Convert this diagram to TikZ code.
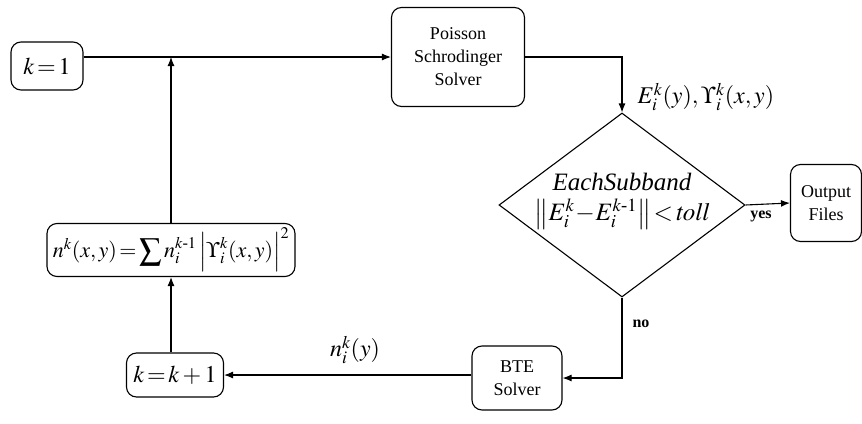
\documentclass[tikz,border=0pt]{standalone}
\usepackage{amsmath}
\usepackage{mathptmx}
\usepackage{fontspec}
\setmainfont{Liberation Serif}
\usetikzlibrary{shapes.geometric,arrows.meta}
\begin{document}
\begin{tikzpicture}[x=1pt,y=-1pt,
  box/.style={draw,line width=1.1pt,rounded corners=10pt,align=center,inner sep=0pt,font=\fontsize{18}{23}\selectfont},
  arr/.style={line width=1.1pt,-{Latex[length=9pt,width=7pt]}},
  mth/.style={font=\fontsize{24}{26}\selectfont}]
\useasboundingbox (0,0) rectangle (862,423);
\node[box,mth,minimum width=72pt,minimum height=48pt] (k1) at (47,66) {$k\!=\!1$};
\node[box,minimum width=133pt,minimum height=99pt] (ps) at (458,57) {Poisson\\Schrodinger\\Solver};
\node[draw,line width=1.1pt,diamond,minimum width=246pt,minimum height=184pt,inner sep=0pt] (dm) at (622,205) {};
\node[align=center,font=\fontsize{25}{30}\selectfont] (dt) at (622,201) {\textit{EachSubband}\\$\left\|E_i^k\!-\!E_i^{k\text{-}1}\right\|\!<\!\mathit{toll}$};
\node[box,minimum width=71pt,minimum height=77pt] (out) at (826,203) {Output\\Files};
\node[box,minimum width=90pt,minimum height=64pt] (bte) at (517,378) {BTE\\Solver};
\node[box,mth,minimum width=97pt,minimum height=44pt] (kk) at (175,375) {$k\!=\!k+1$};
\node[box,font=\fontsize{22}{24}\selectfont,minimum width=248pt,minimum height=53pt] (nb) at (171,250) {$n^k(x,y)\!=\!\displaystyle\sum n_i^{k\text{-}1}\left|\Upsilon_i^k(x,y)\right|^2$};
\coordinate (join) at (171,57);
\coordinate (c1) at (622,57);
\coordinate (c2) at (622,378);
\draw[arr] (k1.east |- 0,57) -- (ps.west);
\draw[arr] (ps.east) -- (c1) -- (dm.north);
\draw[arr] (dm.east) -- (out.west);
\draw[arr] (dm.south) -- (c2) -- (bte.east);
\draw[arr] (bte.west |- kk.east) -- (kk.east);
\draw[arr] (kk.north -| nb.south) -- (nb.south);
\draw[arr] (nb.north) -- (join);
\node[mth,anchor=west] (lab1) at (634,97) {$E_i^k(y),\Upsilon_i^k(x,y)$};
\node[font=\bfseries\fontsize{16}{17}\selectfont] (yes) at (761,216) {yes};
\node[font=\bfseries\fontsize{16}{17}\selectfont] (no) at (641,324) {no};
\node[mth] (lab2) at (355,350) {$n_i^k(y)$};
\end{tikzpicture}
\end{document}
